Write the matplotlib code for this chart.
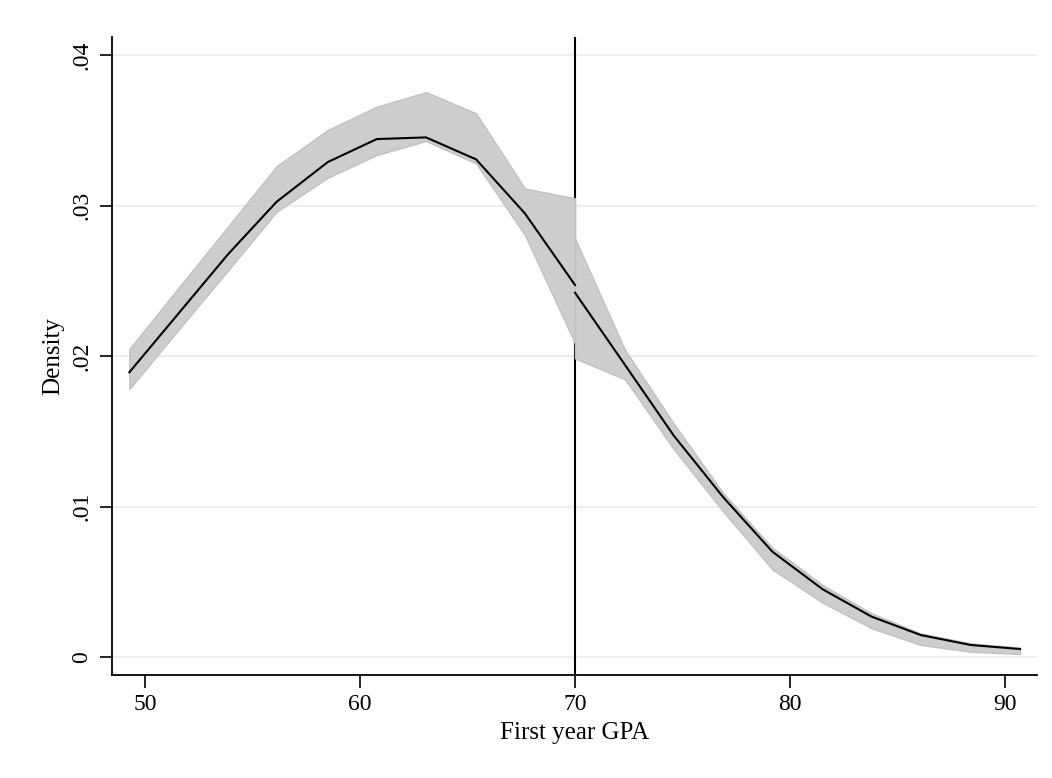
import matplotlib
matplotlib.use("Agg")
import matplotlib.pyplot as plt

plt.rcParams['font.family'] = ['Liberation Serif', 'DejaVu Serif']

# Left of cutoff
x_left = [49.27, 51.57, 53.87, 56.12, 58.50, 60.78, 63.07, 65.40, 67.67, 70.00]
d_left = [0.01892, 0.02285, 0.02678, 0.03025, 0.03289, 0.03442, 0.03453, 0.03307, 0.02948, 0.02472]
hi_left = [0.02047, 0.02456, 0.02862, 0.03262, 0.03502, 0.03657, 0.03754, 0.03613, 0.03114, 0.03048]
lo_left = [0.01780, 0.02177, 0.02570, 0.02959, 0.03185, 0.03336, 0.03429, 0.03280, 0.02804, 0.02084]

# Right of cutoff
x_right = [70.00, 72.33, 74.60, 76.90, 79.18, 81.52, 83.80, 86.08, 88.40, 90.70]
d_right = [0.02421, 0.01940, 0.01470, 0.01061, 0.00700, 0.00450, 0.00268, 0.00146, 0.00080, 0.00053]
hi_right = [0.02782, 0.02040, 0.01550, 0.01088, 0.00726, 0.00478, 0.00290, 0.00157, 0.00091, 0.00062]
lo_right = [0.01985, 0.01845, 0.01380, 0.00966, 0.00582, 0.00361, 0.00191, 0.00080, 0.00035, 0.00020]

cutoff = 70
xticks = [50, 60, 70, 80, 90]
yticks = [0, 0.01, 0.02, 0.03, 0.04]
ytick_labels = ['0', '.01', '.02', '.03', '.04']

fig = plt.figure(figsize=(10.52, 7.78), dpi=100)
ax = fig.add_axes([0.1065, 0.1324, 0.8792, 0.82])

band_fc = '#cdcdcd'
band_ec = '#c2c2c2'

for gy in yticks:
    ax.axhline(gy, color='#e8f0f1', lw=1.5, zorder=0)

ax.axvline(cutoff, color='black', lw=1.5, zorder=1)

ax.fill_between(x_left, lo_left, hi_left, facecolor=band_fc, edgecolor=band_ec, lw=1.0, zorder=2)
ax.fill_between(x_right, lo_right, hi_right, facecolor=band_fc, edgecolor=band_ec, lw=1.0, zorder=2)
ax.plot(x_left, d_left, color='black', lw=1.5, zorder=3)
ax.plot(x_right, d_right, color='black', lw=1.5, zorder=3)

ax.set_xlim(48.465, 91.488)
ax.set_ylim(-0.001196, 0.0412)

ax.set_xticks(xticks)
ax.set_xticklabels([str(t) for t in xticks])
ax.set_yticks(yticks)
ax.set_yticklabels(ytick_labels, rotation=90, va='center')

ax.tick_params(axis='both', labelsize=17, length=9, width=1.2, color='black', pad=5)
for s in ['top', 'right']:
    ax.spines[s].set_visible(False)
for s in ['left', 'bottom']:
    ax.spines[s].set_linewidth(1.3)

ax.set_xlabel('First year GPA', fontsize=18, labelpad=5)
ax.set_ylabel('Density', fontsize=18, labelpad=5)

fig.savefig('out.png', dpi=100)
